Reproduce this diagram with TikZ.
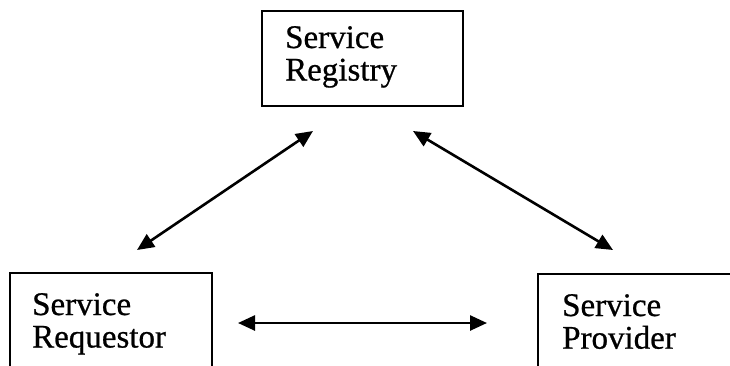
\documentclass[tikz,border=0pt]{standalone}
\usepackage{fontspec}
\setmainfont{Liberation Serif}[FakeBold=0.7]
\usetikzlibrary{arrows.meta}
\begin{document}
\begin{tikzpicture}[x=1pt,y=-1pt,
  box/.style={draw=black, line width=2.2pt, rectangle, anchor=north west, inner sep=0pt, outer sep=0pt},
  label/.style={anchor=base west, inner sep=0pt, font=\fontsize{33}{32.5}\selectfont},
  link/.style={line width=2.6pt, {Triangle[length=17pt,width=15pt]}-{Triangle[length=17pt,width=15pt]}}]
\useasboundingbox (0,0) rectangle (730,365);
\clip (0,0) rectangle (730,365);
\fill[white] (0,0) rectangle (730,365);
% boxes
\node[box, minimum width=201pt, minimum height=95pt] (reg) at (262,11) {};
\node[box, minimum width=202pt, minimum height=130pt] (req) at (10,273) {};
\node[box, minimum width=230pt, minimum height=130pt] (prov) at (538,274) {};
% texts
\node[label] (regtext) at (285,48) {\begin{tabular}[t]{@{}l@{}}Service\\Registry\end{tabular}};
\node[label] (reqtext) at (32,315) {\begin{tabular}[t]{@{}l@{}}Service\\Requestor\end{tabular}};
\node[label] (provtext) at (562,316) {\begin{tabular}[t]{@{}l@{}}Service\\Provider\end{tabular}};
% arrow ends
\coordinate (a1) at (137,250);
\coordinate (a2) at (313,131);
\coordinate (b1) at (413,131);
\coordinate (b2) at (613,250);
\coordinate (c1) at (238,323);
\coordinate (c2) at (487,323);
\draw[link] (a1) -- (a2);
\draw[link] (b1) -- (b2);
\draw[link] (c1) -- (c2);
\end{tikzpicture}
\end{document}
